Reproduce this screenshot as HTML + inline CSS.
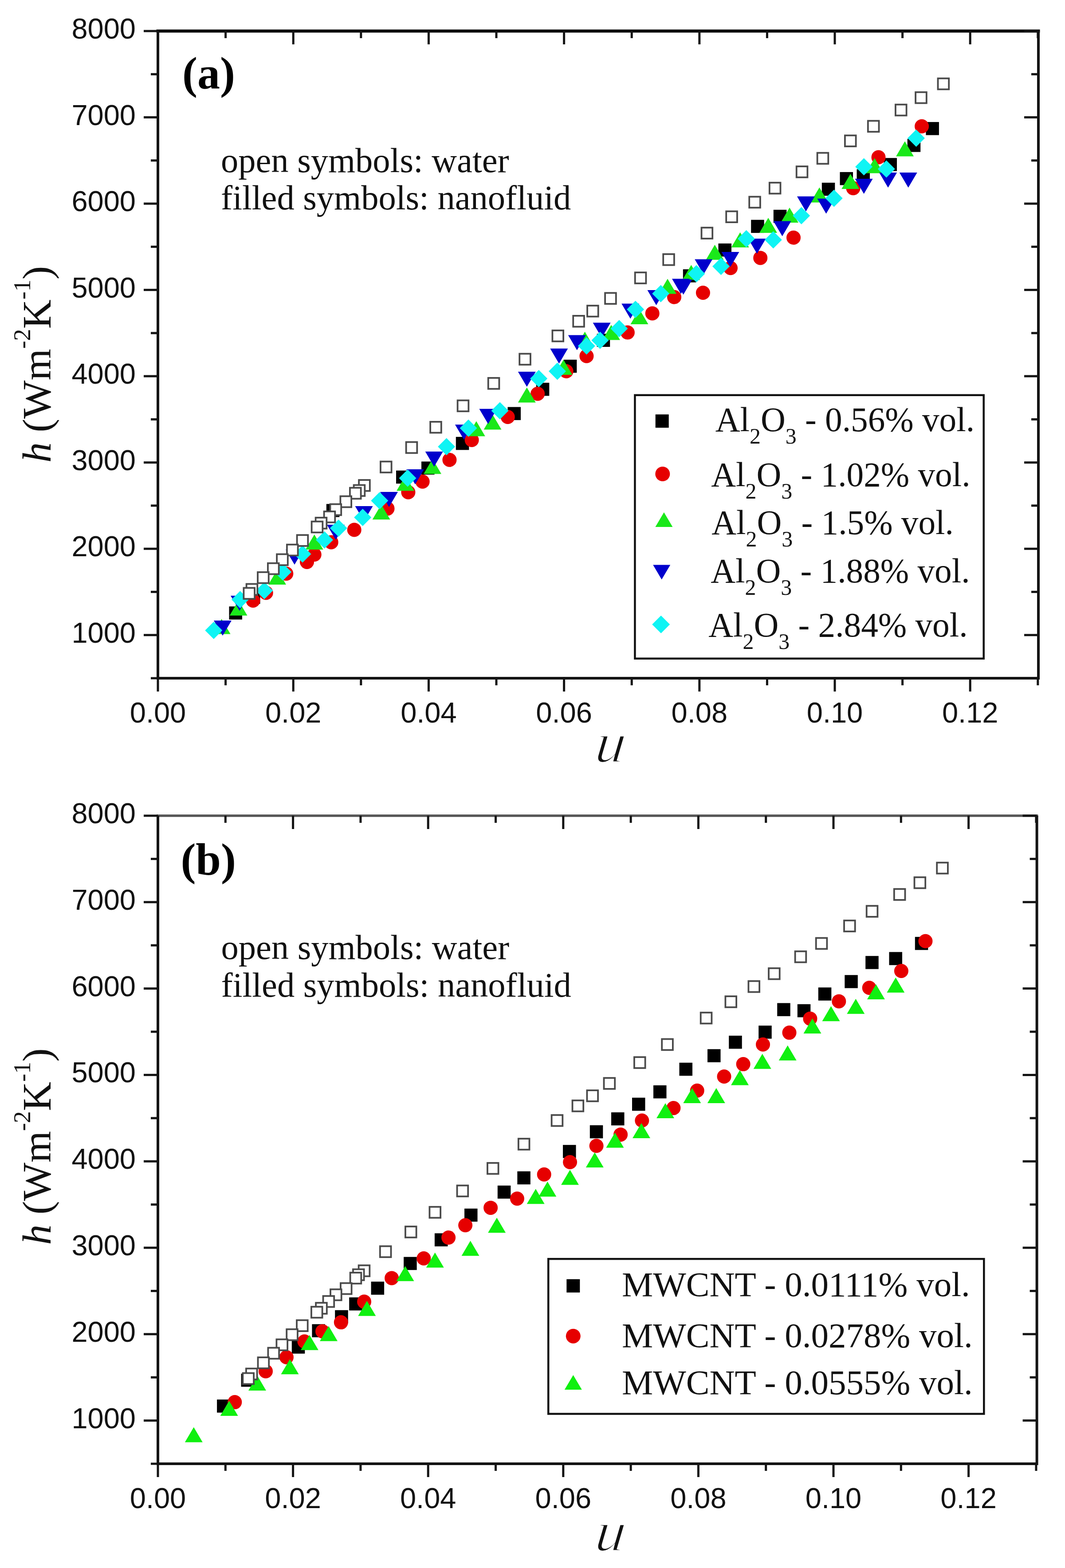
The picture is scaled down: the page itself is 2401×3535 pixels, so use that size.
<!DOCTYPE html>
<html><head><meta charset="utf-8"><title>h vs u</title><style>
*{margin:0;padding:0}
html,body{width:2401px;height:3535px;background:#fff;overflow:hidden}
svg{display:block}
.tk{font-family:"Liberation Sans",Arial,sans-serif;font-size:65px;fill:#111}
.lab{font-family:"Liberation Serif","Times New Roman",serif;font-weight:bold;font-size:102px;fill:#000}
.ann{font-family:"Liberation Serif","Times New Roman",serif;font-size:78.5px;fill:#111}
.leg{font-family:"Liberation Serif","Times New Roman",serif;font-size:79px;fill:#111}
.sub{font-size:51px}
.ylab{font-family:"Liberation Serif","Times New Roman",serif;font-size:91.5px;fill:#111}
.sup{font-size:54px}
.ulab{font-family:"Liberation Serif","Times New Roman",serif;font-style:italic;font-size:129px;fill:#111;stroke:#fff;stroke-width:3px}
</style></head>
<body><svg width="2401" height="3535" viewBox="0 0 2401 3535">
<rect width="2401" height="3535" fill="#fff"/>
<path d="M356 70H2341" stroke="#0a0a0a" stroke-width="7" stroke-linecap="square"/>
<path d="M356 70V1529H2341V70" fill="none" stroke="#141414" stroke-width="6" stroke-linejoin="miter"/>
<line x1="340" y1="1529" x2="356" y2="1529" stroke="#141414" stroke-width="5"/>
<line x1="2341" y1="1529" x2="2325" y2="1529" stroke="#141414" stroke-width="5"/>
<line x1="324" y1="1431.7" x2="356" y2="1431.7" stroke="#141414" stroke-width="5"/>
<line x1="2341" y1="1431.7" x2="2309" y2="1431.7" stroke="#141414" stroke-width="5"/>
<text x="306" y="1448.7" text-anchor="end" class="tk">1000</text>
<line x1="340" y1="1334.4" x2="356" y2="1334.4" stroke="#141414" stroke-width="5"/>
<line x1="2341" y1="1334.4" x2="2325" y2="1334.4" stroke="#141414" stroke-width="5"/>
<line x1="324" y1="1237.2" x2="356" y2="1237.2" stroke="#141414" stroke-width="5"/>
<line x1="2341" y1="1237.2" x2="2309" y2="1237.2" stroke="#141414" stroke-width="5"/>
<text x="306" y="1254.2" text-anchor="end" class="tk">2000</text>
<line x1="340" y1="1139.9" x2="356" y2="1139.9" stroke="#141414" stroke-width="5"/>
<line x1="2341" y1="1139.9" x2="2325" y2="1139.9" stroke="#141414" stroke-width="5"/>
<line x1="324" y1="1042.7" x2="356" y2="1042.7" stroke="#141414" stroke-width="5"/>
<line x1="2341" y1="1042.7" x2="2309" y2="1042.7" stroke="#141414" stroke-width="5"/>
<text x="306" y="1059.7" text-anchor="end" class="tk">3000</text>
<line x1="340" y1="945.4" x2="356" y2="945.4" stroke="#141414" stroke-width="5"/>
<line x1="2341" y1="945.4" x2="2325" y2="945.4" stroke="#141414" stroke-width="5"/>
<line x1="324" y1="848.1" x2="356" y2="848.1" stroke="#141414" stroke-width="5"/>
<line x1="2341" y1="848.1" x2="2309" y2="848.1" stroke="#141414" stroke-width="5"/>
<text x="306" y="865.1" text-anchor="end" class="tk">4000</text>
<line x1="340" y1="750.9" x2="356" y2="750.9" stroke="#141414" stroke-width="5"/>
<line x1="2341" y1="750.9" x2="2325" y2="750.9" stroke="#141414" stroke-width="5"/>
<line x1="324" y1="653.6" x2="356" y2="653.6" stroke="#141414" stroke-width="5"/>
<line x1="2341" y1="653.6" x2="2309" y2="653.6" stroke="#141414" stroke-width="5"/>
<text x="306" y="670.6" text-anchor="end" class="tk">5000</text>
<line x1="340" y1="556.3" x2="356" y2="556.3" stroke="#141414" stroke-width="5"/>
<line x1="2341" y1="556.3" x2="2325" y2="556.3" stroke="#141414" stroke-width="5"/>
<line x1="324" y1="459.1" x2="356" y2="459.1" stroke="#141414" stroke-width="5"/>
<line x1="2341" y1="459.1" x2="2309" y2="459.1" stroke="#141414" stroke-width="5"/>
<text x="306" y="476.1" text-anchor="end" class="tk">6000</text>
<line x1="340" y1="361.8" x2="356" y2="361.8" stroke="#141414" stroke-width="5"/>
<line x1="2341" y1="361.8" x2="2325" y2="361.8" stroke="#141414" stroke-width="5"/>
<line x1="324" y1="264.5" x2="356" y2="264.5" stroke="#141414" stroke-width="5"/>
<line x1="2341" y1="264.5" x2="2309" y2="264.5" stroke="#141414" stroke-width="5"/>
<text x="306" y="281.5" text-anchor="end" class="tk">7000</text>
<line x1="340" y1="167.3" x2="356" y2="167.3" stroke="#141414" stroke-width="5"/>
<line x1="2341" y1="167.3" x2="2325" y2="167.3" stroke="#141414" stroke-width="5"/>
<line x1="324" y1="70" x2="356" y2="70" stroke="#141414" stroke-width="5"/>
<line x1="2341" y1="70" x2="2309" y2="70" stroke="#141414" stroke-width="5"/>
<text x="306" y="87" text-anchor="end" class="tk">8000</text>
<line x1="356" y1="1529" x2="356" y2="1559" stroke="#141414" stroke-width="5"/>
<line x1="356" y1="70" x2="356" y2="100" stroke="#141414" stroke-width="5"/>
<text x="356" y="1629" text-anchor="middle" class="tk">0.00</text>
<line x1="508.6" y1="1529" x2="508.6" y2="1545" stroke="#141414" stroke-width="5"/>
<line x1="508.6" y1="70" x2="508.6" y2="86" stroke="#141414" stroke-width="5"/>
<line x1="661.2" y1="1529" x2="661.2" y2="1559" stroke="#141414" stroke-width="5"/>
<line x1="661.2" y1="70" x2="661.2" y2="100" stroke="#141414" stroke-width="5"/>
<text x="661.2" y="1629" text-anchor="middle" class="tk">0.02</text>
<line x1="813.8" y1="1529" x2="813.8" y2="1545" stroke="#141414" stroke-width="5"/>
<line x1="813.8" y1="70" x2="813.8" y2="86" stroke="#141414" stroke-width="5"/>
<line x1="966.4" y1="1529" x2="966.4" y2="1559" stroke="#141414" stroke-width="5"/>
<line x1="966.4" y1="70" x2="966.4" y2="100" stroke="#141414" stroke-width="5"/>
<text x="966.4" y="1629" text-anchor="middle" class="tk">0.04</text>
<line x1="1119" y1="1529" x2="1119" y2="1545" stroke="#141414" stroke-width="5"/>
<line x1="1119" y1="70" x2="1119" y2="86" stroke="#141414" stroke-width="5"/>
<line x1="1271.6" y1="1529" x2="1271.6" y2="1559" stroke="#141414" stroke-width="5"/>
<line x1="1271.6" y1="70" x2="1271.6" y2="100" stroke="#141414" stroke-width="5"/>
<text x="1271.6" y="1629" text-anchor="middle" class="tk">0.06</text>
<line x1="1424.2" y1="1529" x2="1424.2" y2="1545" stroke="#141414" stroke-width="5"/>
<line x1="1424.2" y1="70" x2="1424.2" y2="86" stroke="#141414" stroke-width="5"/>
<line x1="1576.8" y1="1529" x2="1576.8" y2="1559" stroke="#141414" stroke-width="5"/>
<line x1="1576.8" y1="70" x2="1576.8" y2="100" stroke="#141414" stroke-width="5"/>
<text x="1576.8" y="1629" text-anchor="middle" class="tk">0.08</text>
<line x1="1729.4" y1="1529" x2="1729.4" y2="1545" stroke="#141414" stroke-width="5"/>
<line x1="1729.4" y1="70" x2="1729.4" y2="86" stroke="#141414" stroke-width="5"/>
<line x1="1882" y1="1529" x2="1882" y2="1559" stroke="#141414" stroke-width="5"/>
<line x1="1882" y1="70" x2="1882" y2="100" stroke="#141414" stroke-width="5"/>
<text x="1882" y="1629" text-anchor="middle" class="tk">0.10</text>
<line x1="2034.6" y1="1529" x2="2034.6" y2="1545" stroke="#141414" stroke-width="5"/>
<line x1="2034.6" y1="70" x2="2034.6" y2="86" stroke="#141414" stroke-width="5"/>
<line x1="2187.2" y1="1529" x2="2187.2" y2="1559" stroke="#141414" stroke-width="5"/>
<line x1="2187.2" y1="70" x2="2187.2" y2="100" stroke="#141414" stroke-width="5"/>
<text x="2187.2" y="1629" text-anchor="middle" class="tk">0.12</text>
<line x1="2339.8" y1="1529" x2="2339.8" y2="1545" stroke="#141414" stroke-width="5"/>
<line x1="2339.8" y1="70" x2="2339.8" y2="86" stroke="#141414" stroke-width="5"/>
<rect x="516.5" y="1367.2" width="29.5" height="29.5" fill="#000"/>
<rect x="557" y="1331.8" width="29.5" height="29.5" fill="#000"/>
<rect x="735.8" y="1136.2" width="29.5" height="29.5" fill="#000"/>
<rect x="893" y="1060.8" width="29.5" height="29.5" fill="#000"/>
<rect x="950" y="1040.5" width="29.5" height="29.5" fill="#000"/>
<rect x="1027.8" y="984.9" width="29.5" height="29.5" fill="#000"/>
<rect x="1144.5" y="917.6" width="29.5" height="29.5" fill="#000"/>
<rect x="1208.8" y="862.9" width="29.5" height="29.5" fill="#000"/>
<rect x="1270.8" y="810.9" width="29.5" height="29.5" fill="#000"/>
<rect x="1345.7" y="752.5" width="29.5" height="29.5" fill="#000"/>
<rect x="1539.8" y="607.1" width="29.5" height="29.5" fill="#000"/>
<rect x="1619.5" y="548.9" width="29.5" height="29.5" fill="#000"/>
<rect x="1693.2" y="495.6" width="29.5" height="29.5" fill="#000"/>
<rect x="1743.8" y="472.9" width="29.5" height="29.5" fill="#000"/>
<rect x="1852.8" y="411.9" width="29.5" height="29.5" fill="#000"/>
<rect x="1893.5" y="387.9" width="29.5" height="29.5" fill="#000"/>
<rect x="1931.5" y="381.6" width="29.5" height="29.5" fill="#000"/>
<rect x="1992.5" y="356.2" width="29.5" height="29.5" fill="#000"/>
<rect x="2045.7" y="313.1" width="29.5" height="29.5" fill="#000"/>
<rect x="2087.4" y="275.1" width="29.5" height="29.5" fill="#000"/>
<circle cx="570.5" cy="1354" r="16" fill="#e60000"/>
<circle cx="599.7" cy="1336.4" r="16" fill="#e60000"/>
<circle cx="645.3" cy="1293.3" r="16" fill="#e60000"/>
<circle cx="692" cy="1267" r="16" fill="#e60000"/>
<circle cx="708.7" cy="1250.3" r="16" fill="#e60000"/>
<circle cx="746.7" cy="1222.4" r="16" fill="#e60000"/>
<circle cx="798.7" cy="1194.5" r="16" fill="#e60000"/>
<circle cx="873.5" cy="1146.6" r="16" fill="#e60000"/>
<circle cx="920.4" cy="1109.8" r="16" fill="#e60000"/>
<circle cx="952.6" cy="1085.7" r="16" fill="#e60000"/>
<circle cx="1013.4" cy="1036.8" r="16" fill="#e60000"/>
<circle cx="1063.6" cy="992" r="16" fill="#e60000"/>
<circle cx="1144.7" cy="940" r="16" fill="#e60000"/>
<circle cx="1212.1" cy="887.7" r="16" fill="#e60000"/>
<circle cx="1276.7" cy="837" r="16" fill="#e60000"/>
<circle cx="1322.4" cy="802.8" r="16" fill="#e60000"/>
<circle cx="1414.9" cy="749.6" r="16" fill="#e60000"/>
<circle cx="1470.7" cy="706.5" r="16" fill="#e60000"/>
<circle cx="1520" cy="669.7" r="16" fill="#e60000"/>
<circle cx="1584.9" cy="660" r="16" fill="#e60000"/>
<circle cx="1647" cy="604.2" r="16" fill="#e60000"/>
<circle cx="1714.2" cy="581.4" r="16" fill="#e60000"/>
<circle cx="1789" cy="535.7" r="16" fill="#e60000"/>
<circle cx="1923.5" cy="424.2" r="16" fill="#e60000"/>
<circle cx="1980.5" cy="354.5" r="16" fill="#e60000"/>
<circle cx="2078.1" cy="284.8" r="16" fill="#e60000"/>
<path d="M499.6 1395.5L519.6 1429.5L479.6 1429.5Z" fill="#1ae81a"/>
<path d="M537.6 1353.7L557.6 1387.7L517.6 1387.7Z" fill="#1ae81a"/>
<path d="M625 1284L645 1318L605 1318Z" fill="#1ae81a"/>
<path d="M708.7 1205L728.7 1239L688.7 1239Z" fill="#1ae81a"/>
<path d="M859.6 1137.2L879.6 1171.2L839.6 1171.2Z" fill="#1ae81a"/>
<path d="M914 1072.5L934 1106.5L894 1106.5Z" fill="#1ae81a"/>
<path d="M975 1034.5L995 1068.5L955 1068.5Z" fill="#1ae81a"/>
<path d="M1073.8 949.6L1093.8 983.6L1053.8 983.6Z" fill="#1ae81a"/>
<path d="M1110.5 934.4L1130.5 968.4L1090.5 968.4Z" fill="#1ae81a"/>
<path d="M1187.8 873.5L1207.8 907.5L1167.8 907.5Z" fill="#1ae81a"/>
<path d="M1270.4 811.1L1290.4 845.1L1250.4 845.1Z" fill="#1ae81a"/>
<path d="M1318.6 747.8L1338.6 781.8L1298.6 781.8Z" fill="#1ae81a"/>
<path d="M1378 732.6L1398 766.6L1358 766.6Z" fill="#1ae81a"/>
<path d="M1441.5 697L1461.5 731L1421.5 731Z" fill="#1ae81a"/>
<path d="M1505 628.6L1525 662.6L1485 662.6Z" fill="#1ae81a"/>
<path d="M1558.3 597.3L1578.3 631.3L1538.3 631.3Z" fill="#1ae81a"/>
<path d="M1611.5 551.7L1631.5 585.7L1591.5 585.7Z" fill="#1ae81a"/>
<path d="M1668.6 523.8L1688.6 557.8L1648.6 557.8Z" fill="#1ae81a"/>
<path d="M1732 490.9L1752 524.9L1712 524.9Z" fill="#1ae81a"/>
<path d="M1780 468L1800 502L1760 502Z" fill="#1ae81a"/>
<path d="M1847.3 422.4L1867.3 456.4L1827.3 456.4Z" fill="#1ae81a"/>
<path d="M1917.2 392L1937.2 426L1897.2 426Z" fill="#1ae81a"/>
<path d="M1971.7 356.5L1991.7 390.5L1951.7 390.5Z" fill="#1ae81a"/>
<path d="M2040 318.5L2060 352.5L2020 352.5Z" fill="#1ae81a"/>
<path d="M482 1399L522 1399L502 1433Z" fill="#0000cc"/>
<path d="M520 1343L560 1343L540 1377Z" fill="#0000cc"/>
<path d="M644 1239L684 1239L664 1273Z" fill="#0000cc"/>
<path d="M737 1183L777 1183L757 1217Z" fill="#0000cc"/>
<path d="M800.5 1141L840.5 1141L820.5 1175Z" fill="#0000cc"/>
<path d="M857 1109L897 1109L877 1143Z" fill="#0000cc"/>
<path d="M916 1058L956 1058L936 1092Z" fill="#0000cc"/>
<path d="M958.7 1018L998.7 1018L978.7 1052Z" fill="#0000cc"/>
<path d="M1025.9 957.2L1065.9 957.2L1045.9 991.2Z" fill="#0000cc"/>
<path d="M1080.4 921.7L1120.4 921.7L1100.4 955.7Z" fill="#0000cc"/>
<path d="M1167.8 838L1207.8 838L1187.8 872Z" fill="#0000cc"/>
<path d="M1240.3 785.8L1280.3 785.8L1260.3 819.8Z" fill="#0000cc"/>
<path d="M1280.8 755.4L1320.8 755.4L1300.8 789.4Z" fill="#0000cc"/>
<path d="M1336.6 727.5L1376.6 727.5L1356.6 761.5Z" fill="#0000cc"/>
<path d="M1401.2 684.4L1441.2 684.4L1421.2 718.4Z" fill="#0000cc"/>
<path d="M1459.5 654L1499.5 654L1479.5 688Z" fill="#0000cc"/>
<path d="M1515 628.6L1555 628.6L1535 662.6Z" fill="#0000cc"/>
<path d="M1520.6 630.3L1560.6 630.3L1540.6 664.3Z" fill="#0000cc"/>
<path d="M1566.2 584.6L1606.2 584.6L1586.2 618.6Z" fill="#0000cc"/>
<path d="M1626.5 568L1666.5 568L1646.5 602Z" fill="#0000cc"/>
<path d="M1686.6 538L1726.6 538L1706.6 572Z" fill="#0000cc"/>
<path d="M1743.6 498.5L1783.6 498.5L1763.6 532.5Z" fill="#0000cc"/>
<path d="M1796.9 442.7L1836.9 442.7L1816.9 476.7Z" fill="#0000cc"/>
<path d="M1842.5 447.8L1882.5 447.8L1862.5 481.8Z" fill="#0000cc"/>
<path d="M1927.6 403L1967.6 403L1947.6 437Z" fill="#0000cc"/>
<path d="M1982.1 389L2022.1 389L2002.1 423Z" fill="#0000cc"/>
<path d="M2027.7 389L2067.7 389L2047.7 423Z" fill="#0000cc"/>
<path d="M481.8 1401.8L501.3 1421.3L481.8 1440.8L462.3 1421.3Z" fill="#0ff4f4"/>
<path d="M541.4 1332.2L560.9 1351.7L541.4 1371.2L521.9 1351.7Z" fill="#0ff4f4"/>
<path d="M595.9 1311.9L615.4 1331.4L595.9 1350.9L576.4 1331.4Z" fill="#0ff4f4"/>
<path d="M637.7 1270L657.2 1289.5L637.7 1309L618.2 1289.5Z" fill="#0ff4f4"/>
<path d="M682 1229.5L701.5 1249L682 1268.5L662.5 1249Z" fill="#0ff4f4"/>
<path d="M731.5 1197.8L751 1217.3L731.5 1236.8L712 1217.3Z" fill="#0ff4f4"/>
<path d="M763.2 1171.2L782.7 1190.7L763.2 1210.2L743.7 1190.7Z" fill="#0ff4f4"/>
<path d="M817.7 1147.1L837.2 1166.6L817.7 1186.1L798.2 1166.6Z" fill="#0ff4f4"/>
<path d="M855.8 1109.3L875.3 1128.8L855.8 1148.3L836.3 1128.8Z" fill="#0ff4f4"/>
<path d="M919 1058.5L938.5 1078L919 1097.5L899.5 1078Z" fill="#0ff4f4"/>
<path d="M1006.6 987.5L1026.1 1007L1006.6 1026.5L987.1 1007Z" fill="#0ff4f4"/>
<path d="M1056 945.8L1075.5 965.3L1056 984.8L1036.5 965.3Z" fill="#0ff4f4"/>
<path d="M1127 906.5L1146.5 926L1127 945.5L1107.5 926Z" fill="#0ff4f4"/>
<path d="M1214.6 834L1234.1 853.5L1214.6 873L1195.1 853.5Z" fill="#0ff4f4"/>
<path d="M1256.5 817.5L1276 837L1256.5 856.5L1237 837Z" fill="#0ff4f4"/>
<path d="M1322.4 760.5L1341.9 780L1322.4 799.5L1302.9 780Z" fill="#0ff4f4"/>
<path d="M1352.8 747.8L1372.3 767.3L1352.8 786.8L1333.3 767.3Z" fill="#0ff4f4"/>
<path d="M1395.9 721.2L1415.4 740.7L1395.9 760.2L1376.4 740.7Z" fill="#0ff4f4"/>
<path d="M1432.6 678.1L1452.1 697.6L1432.6 717.1L1413.1 697.6Z" fill="#0ff4f4"/>
<path d="M1489.7 642.6L1509.2 662.1L1489.7 681.6L1470.2 662.1Z" fill="#0ff4f4"/>
<path d="M1570 597.5L1589.5 617L1570 636.5L1550.5 617Z" fill="#0ff4f4"/>
<path d="M1625.5 581L1645 600.5L1625.5 620L1606 600.5Z" fill="#0ff4f4"/>
<path d="M1682.5 518.8L1702 538.3L1682.5 557.8L1663 538.3Z" fill="#0ff4f4"/>
<path d="M1743.3 521.3L1762.8 540.8L1743.3 560.3L1723.8 540.8Z" fill="#0ff4f4"/>
<path d="M1806.7 466.8L1826.2 486.3L1806.7 505.8L1787.2 486.3Z" fill="#0ff4f4"/>
<path d="M1880.2 427.5L1899.7 447L1880.2 466.5L1860.7 447Z" fill="#0ff4f4"/>
<path d="M1947.6 356.5L1967.1 376L1947.6 395.5L1928.1 376Z" fill="#0ff4f4"/>
<path d="M1998.3 361.6L2017.8 381.1L1998.3 400.6L1978.8 381.1Z" fill="#0ff4f4"/>
<path d="M2065.5 291.9L2085 311.4L2065.5 330.9L2046 311.4Z" fill="#0ff4f4"/>
<rect x="2114.5" y="176.7" width="24.7" height="24.7" fill="#fff" stroke="#4a4a4a" stroke-width="3.8"/>
<rect x="2064.1" y="207.8" width="24.7" height="24.7" fill="#fff" stroke="#4a4a4a" stroke-width="3.8"/>
<rect x="2018.9" y="235.7" width="24.7" height="24.7" fill="#fff" stroke="#4a4a4a" stroke-width="3.8"/>
<rect x="1956.8" y="272.4" width="24.7" height="24.7" fill="#fff" stroke="#4a4a4a" stroke-width="3.8"/>
<rect x="1904.9" y="305.3" width="24.7" height="24.7" fill="#fff" stroke="#4a4a4a" stroke-width="3.8"/>
<rect x="1842.6" y="344.6" width="24.7" height="24.7" fill="#fff" stroke="#4a4a4a" stroke-width="3.8"/>
<rect x="1795.7" y="375.1" width="24.7" height="24.7" fill="#fff" stroke="#4a4a4a" stroke-width="3.8"/>
<rect x="1734.8" y="411.8" width="24.7" height="24.7" fill="#fff" stroke="#4a4a4a" stroke-width="3.8"/>
<rect x="1689.2" y="443.5" width="24.7" height="24.7" fill="#fff" stroke="#4a4a4a" stroke-width="3.8"/>
<rect x="1637.2" y="476.4" width="24.7" height="24.7" fill="#fff" stroke="#4a4a4a" stroke-width="3.8"/>
<rect x="1581.5" y="513.2" width="24.7" height="24.7" fill="#fff" stroke="#4a4a4a" stroke-width="3.8"/>
<rect x="1495.2" y="572.9" width="24.7" height="24.7" fill="#fff" stroke="#4a4a4a" stroke-width="3.8"/>
<rect x="1431.7" y="614.2" width="24.7" height="24.7" fill="#fff" stroke="#4a4a4a" stroke-width="3.8"/>
<rect x="1364.1" y="660.4" width="24.7" height="24.7" fill="#fff" stroke="#4a4a4a" stroke-width="3.8"/>
<rect x="1324" y="689" width="24.7" height="24.7" fill="#fff" stroke="#4a4a4a" stroke-width="3.8"/>
<rect x="1292.2" y="711.9" width="24.7" height="24.7" fill="#fff" stroke="#4a4a4a" stroke-width="3.8"/>
<rect x="1245.4" y="744.9" width="24.7" height="24.7" fill="#fff" stroke="#4a4a4a" stroke-width="3.8"/>
<rect x="1171.2" y="797.5" width="24.7" height="24.7" fill="#fff" stroke="#4a4a4a" stroke-width="3.8"/>
<rect x="1100.7" y="852" width="24.7" height="24.7" fill="#fff" stroke="#4a4a4a" stroke-width="3.8"/>
<rect x="1031.6" y="902.6" width="24.7" height="24.7" fill="#fff" stroke="#4a4a4a" stroke-width="3.8"/>
<rect x="970.1" y="950.9" width="24.7" height="24.7" fill="#fff" stroke="#4a4a4a" stroke-width="3.8"/>
<rect x="915.6" y="996.6" width="24.7" height="24.7" fill="#fff" stroke="#4a4a4a" stroke-width="3.8"/>
<rect x="857.9" y="1040.5" width="24.7" height="24.7" fill="#fff" stroke="#4a4a4a" stroke-width="3.8"/>
<rect x="809.1" y="1082.1" width="24.7" height="24.7" fill="#fff" stroke="#4a4a4a" stroke-width="3.8"/>
<rect x="797.6" y="1093.5" width="24.7" height="24.7" fill="#fff" stroke="#4a4a4a" stroke-width="3.8"/>
<rect x="788.9" y="1099.7" width="24.7" height="24.7" fill="#fff" stroke="#4a4a4a" stroke-width="3.8"/>
<rect x="767.4" y="1118.7" width="24.7" height="24.7" fill="#fff" stroke="#4a4a4a" stroke-width="3.8"/>
<rect x="744.5" y="1136.6" width="24.7" height="24.7" fill="#fff" stroke="#4a4a4a" stroke-width="3.8"/>
<rect x="730.6" y="1153" width="24.7" height="24.7" fill="#fff" stroke="#4a4a4a" stroke-width="3.8"/>
<rect x="711.6" y="1167" width="24.7" height="24.7" fill="#fff" stroke="#4a4a4a" stroke-width="3.8"/>
<rect x="702.6" y="1175.7" width="24.7" height="24.7" fill="#fff" stroke="#4a4a4a" stroke-width="3.8"/>
<rect x="669.6" y="1206.2" width="24.7" height="24.7" fill="#fff" stroke="#4a4a4a" stroke-width="3.8"/>
<rect x="646.9" y="1227.7" width="24.7" height="24.7" fill="#fff" stroke="#4a4a4a" stroke-width="3.8"/>
<rect x="624.1" y="1249.4" width="24.7" height="24.7" fill="#fff" stroke="#4a4a4a" stroke-width="3.8"/>
<rect x="603.9" y="1269.7" width="24.7" height="24.7" fill="#fff" stroke="#4a4a4a" stroke-width="3.8"/>
<rect x="581" y="1289.9" width="24.7" height="24.7" fill="#fff" stroke="#4a4a4a" stroke-width="3.8"/>
<rect x="555.6" y="1316.5" width="24.7" height="24.7" fill="#fff" stroke="#4a4a4a" stroke-width="3.8"/>
<rect x="549.4" y="1325.4" width="24.7" height="24.7" fill="#fff" stroke="#4a4a4a" stroke-width="3.8"/>
<text x="411" y="198.5" class="lab">(a)</text>
<text x="498" y="387.5" class="ann">open symbols: water</text>
<text x="498" y="472" class="ann">filled symbols: nanofluid</text>
<rect x="1431.4" y="890.8" width="786.3" height="593.9" fill="#fff" stroke="#111" stroke-width="4.5"/>
<rect x="1477.7" y="934.3" width="30" height="30" fill="#000"/>
<text transform="translate(1612.8,972.2) scale(0.978,1)" class="leg">Al<tspan class="sub" dy="28">2</tspan><tspan dy="-28">O</tspan><tspan class="sub" dy="28">3</tspan><tspan dy="-28"> - 0.56% vol.</tspan></text>
<circle cx="1493.8" cy="1068.5" r="16.5" fill="#e60000"/>
<text transform="translate(1603.3,1096) scale(0.978,1)" class="leg">Al<tspan class="sub" dy="28">2</tspan><tspan dy="-28">O</tspan><tspan class="sub" dy="28">3</tspan><tspan dy="-28"> - 1.02% vol.</tspan></text>
<path d="M1496.9 1154.9L1516.4 1187.9L1477.4 1187.9Z" fill="#1ae81a"/>
<text transform="translate(1604.3,1203.5) scale(0.978,1)" class="leg">Al<tspan class="sub" dy="28">2</tspan><tspan dy="-28">O</tspan><tspan class="sub" dy="28">3</tspan><tspan dy="-28"> - 1.5% vol.</tspan></text>
<path d="M1472.2 1273.4L1511.2 1273.4L1491.7 1306.4Z" fill="#0000cc"/>
<text transform="translate(1602.3,1313) scale(0.978,1)" class="leg">Al<tspan class="sub" dy="28">2</tspan><tspan dy="-28">O</tspan><tspan class="sub" dy="28">3</tspan><tspan dy="-28"> - 1.88% vol.</tspan></text>
<path d="M1490.2 1387.8L1510.2 1407.8L1490.2 1427.8L1470.2 1407.8Z" fill="#0ff4f4"/>
<text transform="translate(1597.3,1434.7) scale(0.978,1)" class="leg">Al<tspan class="sub" dy="28">2</tspan><tspan dy="-28">O</tspan><tspan class="sub" dy="28">3</tspan><tspan dy="-28"> - 2.84% vol.</tspan></text>
<text transform="translate(113.5,1043) rotate(-90)" x="0" y="0" class="ylab"><tspan font-style="italic">h</tspan> (Wm<tspan class="sup" dy="-46">-2</tspan><tspan dy="46">K</tspan><tspan class="sup" dy="-46">-1</tspan><tspan dy="46">)</tspan></text>
<text transform="translate(1339,1717.5) scale(1.05,1) skewX(-6)" class="ulab">u</text>
<path d="M356 1839H2337.6" stroke="#555" stroke-width="5.5" stroke-linecap="square"/>
<path d="M356 1839V3300H2337.6V1839" fill="none" stroke="#141414" stroke-width="6" stroke-linejoin="miter"/>
<line x1="340" y1="3300" x2="356" y2="3300" stroke="#141414" stroke-width="5"/>
<line x1="2337.6" y1="3300" x2="2321.6" y2="3300" stroke="#141414" stroke-width="5"/>
<line x1="324" y1="3202.6" x2="356" y2="3202.6" stroke="#141414" stroke-width="5"/>
<line x1="2337.6" y1="3202.6" x2="2305.6" y2="3202.6" stroke="#141414" stroke-width="5"/>
<text x="306" y="3219.6" text-anchor="end" class="tk">1000</text>
<line x1="340" y1="3105.2" x2="356" y2="3105.2" stroke="#141414" stroke-width="5"/>
<line x1="2337.6" y1="3105.2" x2="2321.6" y2="3105.2" stroke="#141414" stroke-width="5"/>
<line x1="324" y1="3007.8" x2="356" y2="3007.8" stroke="#141414" stroke-width="5"/>
<line x1="2337.6" y1="3007.8" x2="2305.6" y2="3007.8" stroke="#141414" stroke-width="5"/>
<text x="306" y="3024.8" text-anchor="end" class="tk">2000</text>
<line x1="340" y1="2910.4" x2="356" y2="2910.4" stroke="#141414" stroke-width="5"/>
<line x1="2337.6" y1="2910.4" x2="2321.6" y2="2910.4" stroke="#141414" stroke-width="5"/>
<line x1="324" y1="2813" x2="356" y2="2813" stroke="#141414" stroke-width="5"/>
<line x1="2337.6" y1="2813" x2="2305.6" y2="2813" stroke="#141414" stroke-width="5"/>
<text x="306" y="2830" text-anchor="end" class="tk">3000</text>
<line x1="340" y1="2715.6" x2="356" y2="2715.6" stroke="#141414" stroke-width="5"/>
<line x1="2337.6" y1="2715.6" x2="2321.6" y2="2715.6" stroke="#141414" stroke-width="5"/>
<line x1="324" y1="2618.2" x2="356" y2="2618.2" stroke="#141414" stroke-width="5"/>
<line x1="2337.6" y1="2618.2" x2="2305.6" y2="2618.2" stroke="#141414" stroke-width="5"/>
<text x="306" y="2635.2" text-anchor="end" class="tk">4000</text>
<line x1="340" y1="2520.8" x2="356" y2="2520.8" stroke="#141414" stroke-width="5"/>
<line x1="2337.6" y1="2520.8" x2="2321.6" y2="2520.8" stroke="#141414" stroke-width="5"/>
<line x1="324" y1="2423.4" x2="356" y2="2423.4" stroke="#141414" stroke-width="5"/>
<line x1="2337.6" y1="2423.4" x2="2305.6" y2="2423.4" stroke="#141414" stroke-width="5"/>
<text x="306" y="2440.4" text-anchor="end" class="tk">5000</text>
<line x1="340" y1="2326" x2="356" y2="2326" stroke="#141414" stroke-width="5"/>
<line x1="2337.6" y1="2326" x2="2321.6" y2="2326" stroke="#141414" stroke-width="5"/>
<line x1="324" y1="2228.6" x2="356" y2="2228.6" stroke="#141414" stroke-width="5"/>
<line x1="2337.6" y1="2228.6" x2="2305.6" y2="2228.6" stroke="#141414" stroke-width="5"/>
<text x="306" y="2245.6" text-anchor="end" class="tk">6000</text>
<line x1="340" y1="2131.2" x2="356" y2="2131.2" stroke="#141414" stroke-width="5"/>
<line x1="2337.6" y1="2131.2" x2="2321.6" y2="2131.2" stroke="#141414" stroke-width="5"/>
<line x1="324" y1="2033.8" x2="356" y2="2033.8" stroke="#141414" stroke-width="5"/>
<line x1="2337.6" y1="2033.8" x2="2305.6" y2="2033.8" stroke="#141414" stroke-width="5"/>
<text x="306" y="2050.8" text-anchor="end" class="tk">7000</text>
<line x1="340" y1="1936.4" x2="356" y2="1936.4" stroke="#141414" stroke-width="5"/>
<line x1="2337.6" y1="1936.4" x2="2321.6" y2="1936.4" stroke="#141414" stroke-width="5"/>
<line x1="324" y1="1839" x2="356" y2="1839" stroke="#141414" stroke-width="5"/>
<line x1="2337.6" y1="1839" x2="2305.6" y2="1839" stroke="#141414" stroke-width="5"/>
<text x="306" y="1856" text-anchor="end" class="tk">8000</text>
<line x1="356" y1="3300" x2="356" y2="3330" stroke="#141414" stroke-width="5"/>
<line x1="356" y1="1839" x2="356" y2="1869" stroke="#141414" stroke-width="5"/>
<text x="356" y="3400" text-anchor="middle" class="tk">0.00</text>
<line x1="508.3" y1="3300" x2="508.3" y2="3316" stroke="#141414" stroke-width="5"/>
<line x1="508.3" y1="1839" x2="508.3" y2="1855" stroke="#141414" stroke-width="5"/>
<line x1="660.6" y1="3300" x2="660.6" y2="3330" stroke="#141414" stroke-width="5"/>
<line x1="660.6" y1="1839" x2="660.6" y2="1869" stroke="#141414" stroke-width="5"/>
<text x="660.6" y="3400" text-anchor="middle" class="tk">0.02</text>
<line x1="812.9" y1="3300" x2="812.9" y2="3316" stroke="#141414" stroke-width="5"/>
<line x1="812.9" y1="1839" x2="812.9" y2="1855" stroke="#141414" stroke-width="5"/>
<line x1="965.2" y1="3300" x2="965.2" y2="3330" stroke="#141414" stroke-width="5"/>
<line x1="965.2" y1="1839" x2="965.2" y2="1869" stroke="#141414" stroke-width="5"/>
<text x="965.2" y="3400" text-anchor="middle" class="tk">0.04</text>
<line x1="1117.5" y1="3300" x2="1117.5" y2="3316" stroke="#141414" stroke-width="5"/>
<line x1="1117.5" y1="1839" x2="1117.5" y2="1855" stroke="#141414" stroke-width="5"/>
<line x1="1269.8" y1="3300" x2="1269.8" y2="3330" stroke="#141414" stroke-width="5"/>
<line x1="1269.8" y1="1839" x2="1269.8" y2="1869" stroke="#141414" stroke-width="5"/>
<text x="1269.8" y="3400" text-anchor="middle" class="tk">0.06</text>
<line x1="1422.1" y1="3300" x2="1422.1" y2="3316" stroke="#141414" stroke-width="5"/>
<line x1="1422.1" y1="1839" x2="1422.1" y2="1855" stroke="#141414" stroke-width="5"/>
<line x1="1574.4" y1="3300" x2="1574.4" y2="3330" stroke="#141414" stroke-width="5"/>
<line x1="1574.4" y1="1839" x2="1574.4" y2="1869" stroke="#141414" stroke-width="5"/>
<text x="1574.4" y="3400" text-anchor="middle" class="tk">0.08</text>
<line x1="1726.7" y1="3300" x2="1726.7" y2="3316" stroke="#141414" stroke-width="5"/>
<line x1="1726.7" y1="1839" x2="1726.7" y2="1855" stroke="#141414" stroke-width="5"/>
<line x1="1879" y1="3300" x2="1879" y2="3330" stroke="#141414" stroke-width="5"/>
<line x1="1879" y1="1839" x2="1879" y2="1869" stroke="#141414" stroke-width="5"/>
<text x="1879" y="3400" text-anchor="middle" class="tk">0.10</text>
<line x1="2031.3" y1="3300" x2="2031.3" y2="3316" stroke="#141414" stroke-width="5"/>
<line x1="2031.3" y1="1839" x2="2031.3" y2="1855" stroke="#141414" stroke-width="5"/>
<line x1="2183.6" y1="3300" x2="2183.6" y2="3330" stroke="#141414" stroke-width="5"/>
<line x1="2183.6" y1="1839" x2="2183.6" y2="1869" stroke="#141414" stroke-width="5"/>
<text x="2183.6" y="3400" text-anchor="middle" class="tk">0.12</text>
<line x1="2335.9" y1="3300" x2="2335.9" y2="3316" stroke="#141414" stroke-width="5"/>
<line x1="2335.9" y1="1839" x2="2335.9" y2="1855" stroke="#141414" stroke-width="5"/>
<rect x="489.1" y="3155.2" width="29.5" height="29.5" fill="#000"/>
<rect x="543.6" y="3096.9" width="29.5" height="29.5" fill="#000"/>
<rect x="657.8" y="3022.2" width="29.5" height="29.5" fill="#000"/>
<rect x="703.4" y="2985.3" width="29.5" height="29.5" fill="#000"/>
<rect x="755.2" y="2953.7" width="29.5" height="29.5" fill="#000"/>
<rect x="787.2" y="2924.9" width="29.5" height="29.5" fill="#000"/>
<rect x="836.6" y="2889.4" width="29.5" height="29.5" fill="#000"/>
<rect x="910.1" y="2833.7" width="29.5" height="29.5" fill="#000"/>
<rect x="979.9" y="2780.4" width="29.5" height="29.5" fill="#000"/>
<rect x="1047" y="2724.7" width="29.5" height="29.5" fill="#000"/>
<rect x="1121.8" y="2672.8" width="29.5" height="29.5" fill="#000"/>
<rect x="1166.3" y="2640.7" width="29.5" height="29.5" fill="#000"/>
<rect x="1269" y="2581.2" width="29.5" height="29.5" fill="#000"/>
<rect x="1329.8" y="2536.8" width="29.5" height="29.5" fill="#000"/>
<rect x="1378" y="2507.7" width="29.5" height="29.5" fill="#000"/>
<rect x="1425" y="2474.7" width="29.5" height="29.5" fill="#000"/>
<rect x="1473" y="2446.8" width="29.5" height="29.5" fill="#000"/>
<rect x="1531.5" y="2395.8" width="29.5" height="29.5" fill="#000"/>
<rect x="1595" y="2365.3" width="29.5" height="29.5" fill="#000"/>
<rect x="1643.2" y="2334.9" width="29.5" height="29.5" fill="#000"/>
<rect x="1710.2" y="2312.2" width="29.5" height="29.5" fill="#000"/>
<rect x="1752.2" y="2261.4" width="29.5" height="29.5" fill="#000"/>
<rect x="1797.8" y="2263.9" width="29.5" height="29.5" fill="#000"/>
<rect x="1844.8" y="2226.2" width="29.5" height="29.5" fill="#000"/>
<rect x="1904.3" y="2198.2" width="29.5" height="29.5" fill="#000"/>
<rect x="1951.2" y="2155.2" width="29.5" height="29.5" fill="#000"/>
<rect x="2004.5" y="2146.3" width="29.5" height="29.5" fill="#000"/>
<rect x="2062.8" y="2112.2" width="29.5" height="29.5" fill="#000"/>
<circle cx="529.3" cy="3161.1" r="16" fill="#e60000"/>
<circle cx="599" cy="3091.4" r="16" fill="#e60000"/>
<circle cx="645.9" cy="3059.7" r="16" fill="#e60000"/>
<circle cx="686.4" cy="3024.2" r="16" fill="#e60000"/>
<circle cx="727" cy="3001.4" r="16" fill="#e60000"/>
<circle cx="768.8" cy="2981.1" r="16" fill="#e60000"/>
<circle cx="821" cy="2934.6" r="16" fill="#e60000"/>
<circle cx="883.1" cy="2881.4" r="16" fill="#e60000"/>
<circle cx="955.3" cy="2837" r="16" fill="#e60000"/>
<circle cx="1011.1" cy="2790.1" r="16" fill="#e60000"/>
<circle cx="1049.1" cy="2762.2" r="16" fill="#e60000"/>
<circle cx="1106.1" cy="2722.9" r="16" fill="#e60000"/>
<circle cx="1165.9" cy="2702.3" r="16" fill="#e60000"/>
<circle cx="1226.7" cy="2647.8" r="16" fill="#e60000"/>
<circle cx="1285" cy="2620" r="16" fill="#e60000"/>
<circle cx="1344.6" cy="2583.2" r="16" fill="#e60000"/>
<circle cx="1399.1" cy="2557.9" r="16" fill="#e60000"/>
<circle cx="1447.3" cy="2526.2" r="16" fill="#e60000"/>
<circle cx="1518.4" cy="2498" r="16" fill="#e60000"/>
<circle cx="1571.7" cy="2458.7" r="16" fill="#e60000"/>
<circle cx="1632.5" cy="2427" r="16" fill="#e60000"/>
<circle cx="1675.6" cy="2399.1" r="16" fill="#e60000"/>
<circle cx="1720" cy="2354.8" r="16" fill="#e60000"/>
<circle cx="1779.5" cy="2328.1" r="16" fill="#e60000"/>
<circle cx="1826.4" cy="2296.5" r="16" fill="#e60000"/>
<circle cx="1891.3" cy="2257.4" r="16" fill="#e60000"/>
<circle cx="1959.7" cy="2227" r="16" fill="#e60000"/>
<circle cx="2031.9" cy="2189" r="16" fill="#e60000"/>
<circle cx="2086.4" cy="2121.8" r="16" fill="#e60000"/>
<path d="M436.8 3217.6L456.8 3251.6L416.8 3251.6Z" fill="#10f010"/>
<path d="M516.6 3158L536.6 3192L496.6 3192Z" fill="#10f010"/>
<path d="M580 3101L600 3135L560 3135Z" fill="#10f010"/>
<path d="M653.5 3064.2L673.5 3098.2L633.5 3098.2Z" fill="#10f010"/>
<path d="M697.9 3009.7L717.9 3043.7L677.9 3043.7Z" fill="#10f010"/>
<path d="M741 2989.5L761 3023.5L721 3023.5Z" fill="#10f010"/>
<path d="M827.3 2932.8L847.3 2966.8L807.3 2966.8Z" fill="#10f010"/>
<path d="M913.5 2854.2L933.5 2888.2L893.5 2888.2Z" fill="#10f010"/>
<path d="M980.7 2823.8L1000.7 2857.8L960.7 2857.8Z" fill="#10f010"/>
<path d="M1060.5 2797.2L1080.5 2831.2L1040.5 2831.2Z" fill="#10f010"/>
<path d="M1120.1 2745.2L1140.1 2779.2L1100.1 2779.2Z" fill="#10f010"/>
<path d="M1207.7 2680.3L1227.7 2714.3L1187.7 2714.3Z" fill="#10f010"/>
<path d="M1234.3 2663.8L1254.3 2697.8L1214.3 2697.8Z" fill="#10f010"/>
<path d="M1285 2637.2L1305 2671.2L1265 2671.2Z" fill="#10f010"/>
<path d="M1340.8 2597.9L1360.8 2631.9L1320.8 2631.9Z" fill="#10f010"/>
<path d="M1386.4 2553.5L1406.4 2587.5L1366.4 2587.5Z" fill="#10f010"/>
<path d="M1446 2532L1466 2566L1426 2566Z" fill="#10f010"/>
<path d="M1500 2487L1520 2521L1480 2521Z" fill="#10f010"/>
<path d="M1560.3 2453.1L1580.3 2487.1L1540.3 2487.1Z" fill="#10f010"/>
<path d="M1614.8 2453.1L1634.8 2487.1L1594.8 2487.1Z" fill="#10f010"/>
<path d="M1668 2412.5L1688 2446.5L1648 2446.5Z" fill="#10f010"/>
<path d="M1718.7 2375.8L1738.7 2409.8L1698.7 2409.8Z" fill="#10f010"/>
<path d="M1775.7 2356.8L1795.7 2390.8L1755.7 2390.8Z" fill="#10f010"/>
<path d="M1831.5 2295.9L1851.5 2329.9L1811.5 2329.9Z" fill="#10f010"/>
<path d="M1873.5 2268.3L1893.5 2302.3L1853.5 2302.3Z" fill="#10f010"/>
<path d="M1929.3 2251.8L1949.3 2285.8L1909.3 2285.8Z" fill="#10f010"/>
<path d="M1974.9 2218.9L1994.9 2252.9L1954.9 2252.9Z" fill="#10f010"/>
<path d="M2019.3 2203.7L2039.3 2237.7L1999.3 2237.7Z" fill="#10f010"/>
<rect x="2112.2" y="1944.7" width="24.7" height="24.7" fill="#fff" stroke="#4a4a4a" stroke-width="3.8"/>
<rect x="2061.5" y="1977.7" width="24.7" height="24.7" fill="#fff" stroke="#4a4a4a" stroke-width="3.8"/>
<rect x="2015.8" y="2004.2" width="24.7" height="24.7" fill="#fff" stroke="#4a4a4a" stroke-width="3.8"/>
<rect x="1953.7" y="2042.2" width="24.7" height="24.7" fill="#fff" stroke="#4a4a4a" stroke-width="3.8"/>
<rect x="1903" y="2075.2" width="24.7" height="24.7" fill="#fff" stroke="#4a4a4a" stroke-width="3.8"/>
<rect x="1839.7" y="2114.6" width="24.7" height="24.7" fill="#fff" stroke="#4a4a4a" stroke-width="3.8"/>
<rect x="1792.6" y="2144.7" width="24.7" height="24.7" fill="#fff" stroke="#4a4a4a" stroke-width="3.8"/>
<rect x="1733" y="2182.8" width="24.7" height="24.7" fill="#fff" stroke="#4a4a4a" stroke-width="3.8"/>
<rect x="1687.4" y="2211.8" width="24.7" height="24.7" fill="#fff" stroke="#4a4a4a" stroke-width="3.8"/>
<rect x="1635.4" y="2246.1" width="24.7" height="24.7" fill="#fff" stroke="#4a4a4a" stroke-width="3.8"/>
<rect x="1579.7" y="2282.8" width="24.7" height="24.7" fill="#fff" stroke="#4a4a4a" stroke-width="3.8"/>
<rect x="1492.2" y="2342.5" width="24.7" height="24.7" fill="#fff" stroke="#4a4a4a" stroke-width="3.8"/>
<rect x="1429.9" y="2383.2" width="24.7" height="24.7" fill="#fff" stroke="#4a4a4a" stroke-width="3.8"/>
<rect x="1361.5" y="2430.2" width="24.7" height="24.7" fill="#fff" stroke="#4a4a4a" stroke-width="3.8"/>
<rect x="1323.4" y="2458.1" width="24.7" height="24.7" fill="#fff" stroke="#4a4a4a" stroke-width="3.8"/>
<rect x="1290.5" y="2480.8" width="24.7" height="24.7" fill="#fff" stroke="#4a4a4a" stroke-width="3.8"/>
<rect x="1243.6" y="2513.8" width="24.7" height="24.7" fill="#fff" stroke="#4a4a4a" stroke-width="3.8"/>
<rect x="1168.8" y="2567.1" width="24.7" height="24.7" fill="#fff" stroke="#4a4a4a" stroke-width="3.8"/>
<rect x="1098.9" y="2621.8" width="24.7" height="24.7" fill="#fff" stroke="#4a4a4a" stroke-width="3.8"/>
<rect x="1030.5" y="2672.6" width="24.7" height="24.7" fill="#fff" stroke="#4a4a4a" stroke-width="3.8"/>
<rect x="968.4" y="2720.8" width="24.7" height="24.7" fill="#fff" stroke="#4a4a4a" stroke-width="3.8"/>
<rect x="913.9" y="2765.1" width="24.7" height="24.7" fill="#fff" stroke="#4a4a4a" stroke-width="3.8"/>
<rect x="856.8" y="2809.5" width="24.7" height="24.7" fill="#fff" stroke="#4a4a4a" stroke-width="3.8"/>
<rect x="808.6" y="2852.6" width="24.7" height="24.7" fill="#fff" stroke="#4a4a4a" stroke-width="3.8"/>
<rect x="795.9" y="2861.5" width="24.7" height="24.7" fill="#fff" stroke="#4a4a4a" stroke-width="3.8"/>
<rect x="789.6" y="2869.1" width="24.7" height="24.7" fill="#fff" stroke="#4a4a4a" stroke-width="3.8"/>
<rect x="767.9" y="2892.7" width="24.7" height="24.7" fill="#fff" stroke="#4a4a4a" stroke-width="3.8"/>
<rect x="745" y="2906.7" width="24.7" height="24.7" fill="#fff" stroke="#4a4a4a" stroke-width="3.8"/>
<rect x="728.5" y="2921.8" width="24.7" height="24.7" fill="#fff" stroke="#4a4a4a" stroke-width="3.8"/>
<rect x="712.1" y="2937.1" width="24.7" height="24.7" fill="#fff" stroke="#4a4a4a" stroke-width="3.8"/>
<rect x="701.9" y="2946" width="24.7" height="24.7" fill="#fff" stroke="#4a4a4a" stroke-width="3.8"/>
<rect x="669" y="2976.3" width="24.7" height="24.7" fill="#fff" stroke="#4a4a4a" stroke-width="3.8"/>
<rect x="646.2" y="2996.7" width="24.7" height="24.7" fill="#fff" stroke="#4a4a4a" stroke-width="3.8"/>
<rect x="623.4" y="3019.5" width="24.7" height="24.7" fill="#fff" stroke="#4a4a4a" stroke-width="3.8"/>
<rect x="604.4" y="3038.5" width="24.7" height="24.7" fill="#fff" stroke="#4a4a4a" stroke-width="3.8"/>
<rect x="581.5" y="3060.1" width="24.7" height="24.7" fill="#fff" stroke="#4a4a4a" stroke-width="3.8"/>
<rect x="554.9" y="3085.3" width="24.7" height="24.7" fill="#fff" stroke="#4a4a4a" stroke-width="3.8"/>
<rect x="547.4" y="3095.6" width="24.7" height="24.7" fill="#fff" stroke="#4a4a4a" stroke-width="3.8"/>
<text x="407.4" y="1972" class="lab">(b)</text>
<text x="498.5" y="2161.5" class="ann">open symbols: water</text>
<text x="498.5" y="2247" class="ann">filled symbols: nanofluid</text>
<rect x="1236.2" y="2838.2" width="982.1" height="349.3" fill="#fff" stroke="#111" stroke-width="4.5"/>
<rect x="1277.3" y="2883.9" width="30" height="30" fill="#000"/>
<text x="1402" y="2922" class="leg">MWCNT - 0.0111% vol.</text>
<circle cx="1292.3" cy="3012.2" r="16.5" fill="#e60000"/>
<text x="1402" y="3037.3" class="leg">MWCNT - 0.0278% vol.</text>
<path d="M1292.3 3099.9L1311.8 3132.9L1272.8 3132.9Z" fill="#10f010"/>
<text x="1402" y="3142.8" class="leg">MWCNT - 0.0555% vol.</text>
<text transform="translate(113.5,2806.5) rotate(-90)" x="0" y="0" class="ylab"><tspan font-style="italic">h</tspan> (Wm<tspan class="sup" dy="-46">-2</tspan><tspan dy="46">K</tspan><tspan class="sup" dy="-46">-1</tspan><tspan dy="46">)</tspan></text>
<text transform="translate(1339,3496) scale(1.05,1) skewX(-6)" class="ulab">u</text>
</svg></body></html>
